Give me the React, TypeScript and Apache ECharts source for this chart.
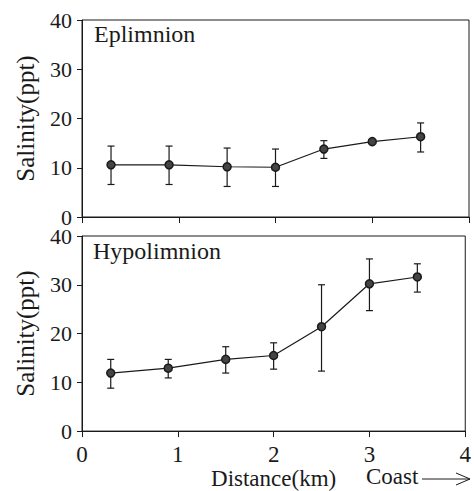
import React, { useEffect, useRef } from "react";
import * as echarts from "echarts";

const distance = [0.3, 0.9, 1.5, 2.0, 2.5, 3.0, 3.5];
const epiMean = [10.6, 10.6, 10.2, 10.1, 13.8, 15.3, 16.3];
const epiLow = [6.6, 6.6, 6.2, 6.2, 11.9, 15.3, 13.2];
const epiHigh = [14.4, 14.4, 14.0, 13.8, 15.5, 15.3, 19.1];
const hypoMean = [11.9, 12.9, 14.7, 15.5, 21.4, 30.2, 31.6];
const hypoLow = [8.8, 10.9, 11.9, 12.7, 12.3, 24.7, 28.5];
const hypoHigh = [14.7, 14.7, 17.3, 18.1, 30.0, 35.3, 34.3];
const panelNames = ["Eplimnion", "Hypolimnion"];
const yName = "Salinity(ppt)";
const xName = "Distance(km)";
const coastLabel = "Coast";

const FONT = "Liberation Serif";
const INK = "#1a1a1a";

export default function App() {
  const ref = useRef<HTMLDivElement>(null);
  useEffect(() => {
    if (!ref.current) return;
    const chart = echarts.init(ref.current, undefined, { renderer: "svg" });
    const errRender = (params: any, api: any) => {
      const x = api.value(0);
      const lo = api.value(1);
      const hi = api.value(2);
      if (lo === hi) return { type: "group", children: [] };
      const pLo = api.coord([x, lo]);
      const pHi = api.coord([x, hi]);
      const w = 3.5;
      const st = { stroke: INK, lineWidth: 1.2 };
      return {
        type: "group",
        children: [
          { type: "line", shape: { x1: pLo[0], y1: pLo[1], x2: pHi[0], y2: pHi[1] }, style: st },
          { type: "line", shape: { x1: pLo[0] - w, y1: pLo[1], x2: pLo[0] + w, y2: pLo[1] }, style: st },
          { type: "line", shape: { x1: pHi[0] - w, y1: pHi[1], x2: pHi[0] + w, y2: pHi[1] }, style: st },
        ],
      };
    };
    const mkX = (idx: number, showLabels: boolean) => ({
      type: "value",
      gridIndex: idx,
      min: 0,
      max: 4,
      interval: 1,
      axisLine: { show: true, lineStyle: { color: INK, width: 1 } },
      axisTick: { show: true, inside: false, length: 6, lineStyle: { color: INK } },
      splitLine: { show: false },
      axisLabel: {
        show: showLabels,
        fontFamily: FONT,
        fontSize: 23,
        color: INK,
        margin: 12,
      },
      name: showLabels ? xName : "",
      nameLocation: "middle",
      nameGap: 33,
      nameTextStyle: { fontFamily: FONT, fontSize: 23, color: INK },
    });
    const mkY = (idx: number) => ({
      type: "value",
      gridIndex: idx,
      min: 0,
      max: 40,
      interval: 10,
      axisLine: { show: true, lineStyle: { color: INK, width: 1 } },
      axisTick: { show: true, inside: false, length: 5, lineStyle: { color: INK } },
      splitLine: { show: false },
      axisLabel: { fontFamily: FONT, fontSize: 22, lineHeight: 16, color: INK, margin: 10 },
      name: yName,
      nameLocation: "middle",
      nameRotate: 90,
      nameGap: 44,
      nameTextStyle: { fontFamily: FONT, fontSize: 25, color: INK },
    });
    const pts = (m: number[]) => distance.map((d, i) => [d, m[i]]);
    const errs = (lo: number[], hi: number[]) => distance.map((d, i) => [d, lo[i], hi[i]]);
    const lineSeries = (idx: number, m: number[]) => ({
      type: "line",
      xAxisIndex: idx,
      yAxisIndex: idx,
      data: pts(m),
      symbol: "circle",
      symbolSize: 8,
      itemStyle: { color: "#444", borderColor: INK, borderWidth: 1.5 },
      lineStyle: { color: INK, width: 1.2 },
      z: 3,
    });
    const errSeries = (idx: number, lo: number[], hi: number[]) => ({
      type: "custom",
      xAxisIndex: idx,
      yAxisIndex: idx,
      data: errs(lo, hi),
      encode: { x: 0, y: [1, 2] },
      renderItem: errRender,
      z: 2,
    });
    chart.setOption({
      animation: false,
      backgroundColor: "#ffffff",
      textStyle: { fontFamily: FONT },
      grid: [
        { left: 82, top: 20, width: 387, height: 197, show: true, borderColor: INK, borderWidth: 1, backgroundColor: "transparent" },
        { left: 82, top: 236, width: 387, height: 197, show: true, borderColor: INK, borderWidth: 1, backgroundColor: "transparent" },
      ],
      xAxis: [mkX(0, false), mkX(1, true)],
      yAxis: [mkY(0), mkY(1)],
      series: [
        errSeries(0, epiLow, epiHigh),
        lineSeries(0, epiMean),
        errSeries(1, hypoLow, hypoHigh),
        lineSeries(1, hypoMean),
      ],
      graphic: [
        { type: "text", left: 94, top: 22, style: { text: panelNames[0], fontFamily: FONT, fontSize: 24, fill: INK } },
        { type: "text", left: 93, top: 239, style: { text: panelNames[1], fontFamily: FONT, fontSize: 24, fill: INK } },
        { type: "text", left: 366, top: 465, style: { text: coastLabel, fontFamily: FONT, fontSize: 23, fill: INK } },
        { type: "line", shape: { x1: 422, y1: 479, x2: 470, y2: 479 }, style: { stroke: INK, lineWidth: 1 } },
        { type: "polyline", shape: { points: [[456, 473], [470, 479], [456, 485]] }, style: { stroke: INK, lineWidth: 1, fill: "none" } },
      ],
    });
    return () => chart.dispose();
  }, []);
  return (
    <div
      ref={ref}
      style={{ position: "absolute", left: 0, top: 0, width: 474, height: 491 }}
    />
  );
}
